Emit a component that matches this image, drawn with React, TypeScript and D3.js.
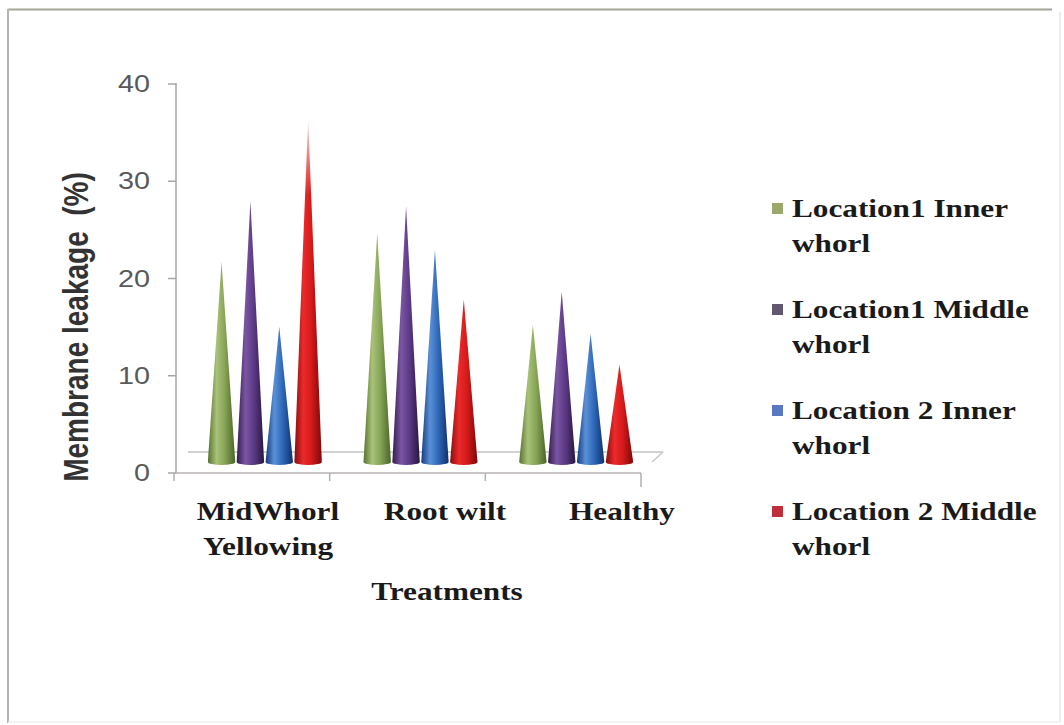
import React from "react";
import * as d3 from "d3";

// Treatments (x categories) and their two-line labels
const categories = ["MidWhorl Yellowing", "Root wilt", "Healthy"];
const categoryLines = [["MidWhorl", "Yellowing"], ["Root wilt"], ["Healthy"]];

// Series names and legend lines
const seriesNames = [
  "Location1 Inner whorl",
  "Location1 Middle whorl",
  "Location 2 Inner whorl",
  "Location 2 Middle whorl",
];
const legendLines = [
  ["Location1 Inner", "whorl"],
  ["Location1 Middle", "whorl"],
  ["Location 2 Inner", "whorl"],
  ["Location 2 Middle", "whorl"],
];

// Membrane leakage (%) per treatment
const loc1Inner = [20.6, 23.5, 14.1];
const loc1Middle = [26.8, 26.3, 17.5];
const loc2Inner = [13.9, 21.8, 13.2];
const loc2Middle = [35.3, 16.7, 10.0];
const seriesValues = [loc1Inner, loc1Middle, loc2Inner, loc2Middle];

const yTicks = [0, 10, 20, 30, 40];

// cone shading: [edge, highlight, mid, far edge]
const coneShades = [
  ["#56722f", "#a9c27a", "#86a456", "#4a6326"],
  ["#321d4b", "#7a55a3", "#5c3a86", "#28163f"],
  ["#143c7c", "#5a90d8", "#2f68b8", "#10306a"],
  ["#880d0d", "#ec2a2a", "#d41a1a", "#7a0909"],
];
const legendColors = ["#9aa86a", "#615770", "#5a78c0", "#c0303c"];

const W = 1064;
const H = 725;
const SX = 1.25; // horizontal text stretch

export default function App() {
  const y = d3.scaleLinear().domain([0, 40]).range([473, 84]);
  const x = d3.scaleBand<string>().domain(categories).range([174, 641]);
  const inner = d3
    .scaleBand<number>()
    .domain(seriesNames.map((_, i) => i))
    .range([-57, 57])
    .paddingInner(0.05);
  const labelX = d3.scaleBand<string>().domain(categories).range([179.5, 710.5]);

  // offset of the cone plane inside the 3-D floor
  const depthDx = 13;
  const depthDy = -11;
  const ry = 3;
  const w = inner.bandwidth();

  const conePath = (cx: number, v: number) => {
    const yb = y(0) + depthDy;
    const yt = y(v) + depthDy;
    return `M${cx - w / 2},${yb} L${cx},${yt} L${cx + w / 2},${yb} A${w / 2},${ry} 0 0 1 ${cx - w / 2},${yb} Z`;
  };

  const serif = "'Liberation Serif', 'Times New Roman', serif";
  const sans = "'Liberation Sans', Arial, sans-serif";

  const boundaries = [...categories.map((c) => x(c) as number), x.range()[1]];

  return (
    <svg
      width={W}
      height={H}
      style={{ position: "absolute", left: 0, top: 0, background: "#fff" }}
    >
      <defs>
        {coneShades.map((s, i) => (
          <linearGradient key={i} id={`cone-${i}`} x1="0" x2="1" y1="0" y2="0">
            <stop offset="0" stopColor={s[0]} />
            <stop offset="0.32" stopColor={s[1]} />
            <stop offset="0.62" stopColor={s[2]} />
            <stop offset="1" stopColor={s[3]} />
          </linearGradient>
        ))}
        <linearGradient id="tipFade" x1="0" x2="0" y1="0" y2="1">
          <stop offset="0" stopColor="#fff" stopOpacity="0.15" />
          <stop offset="0.22" stopColor="#fff" stopOpacity="1" />
          <stop offset="1" stopColor="#fff" stopOpacity="1" />
        </linearGradient>
        <mask id="coneMask" maskContentUnits="objectBoundingBox">
          <rect x="0" y="0" width="1" height="1" fill="url(#tipFade)" />
        </mask>
      </defs>

      {/* outer frame */}
      <line x1={8} y1={9.5} x2={1052} y2={9.5} stroke="#a3a797" strokeWidth={2} />
      <line x1={8} y1={9} x2={8} y2={723} stroke="#b4b4b4" strokeWidth={2} />
      <line x1={1060} y1={12} x2={1060} y2={722} stroke="#ececec" strokeWidth={2} />
      <line x1={8} y1={722} x2={1060} y2={722} stroke="#f0f0f0" strokeWidth={1.5} />

      {/* floor back edge */}
      <line x1={188} y1={452} x2={663} y2={452} stroke="#d2d2d2" strokeWidth={2} />
      <line x1={652} y1={462} x2={663} y2={452} stroke="#c8c8c8" strokeWidth={1.5} />

      {/* value axis */}
      <line x1={176} y1={y(40) - 1} x2={176} y2={y(0)} stroke="#a6a6a6" strokeWidth={1.5} />
      {yTicks.map((t) => (
        <g key={t}>
          <line x1={168} y1={y(t)} x2={176} y2={y(t)} stroke="#a6a6a6" strokeWidth={1.5} />
          <text
            transform={`translate(150,${y(t) + 8}) scale(${SX},1)`}
            textAnchor="end"
            fontFamily={sans}
            fontSize={23}
            fill="#595959"
          >
            {t}
          </text>
        </g>
      ))}

      {/* category axis */}
      <line x1={174} y1={y(0)} x2={641} y2={y(0)} stroke="#b8b2b2" strokeWidth={1.5} />
      {boundaries.map((bx, i) => (
        <line
          key={i}
          x1={bx}
          y1={y(0)}
          x2={bx}
          y2={y(0) + (i === boundaries.length - 1 ? 14 : 8)}
          stroke="#b0b0b0"
          strokeWidth={1.5}
        />
      ))}

      {/* cones */}
      <g mask="url(#coneMask)">
        {categories.map((c, ci) =>
          seriesValues.map((vals, si) => {
            const cx = (x(c) as number) + x.bandwidth() / 2 + depthDx + (inner(si) as number) + w / 2;
            return (
              <path key={`${ci}-${si}`} d={conePath(cx, vals[ci])} fill={`url(#cone-${si})`} />
            );
          })
        )}
      </g>

      {/* category labels */}
      {categories.map((c, ci) =>
        categoryLines[ci].map((line, li) => (
          <text
            key={`${c}-${li}`}
            transform={`translate(${(labelX(c) as number) + labelX.bandwidth() / 2},${520 + li * 35}) scale(${SX},1)`}
            textAnchor="middle"
            fontFamily={serif}
            fontWeight="bold"
            fontSize={25}
            fill="#1a1a1a"
          >
            {line}
          </text>
        ))
      )}

      {/* axis titles */}
      <text
        transform={`translate(447,600) scale(${SX},1)`}
        textAnchor="middle"
        fontFamily={serif}
        fontWeight="bold"
        fontSize={25}
        fill="#1a1a1a"
      >
        Treatments
      </text>
      <text
        transform={`translate(88,327) scale(${SX},1) rotate(-90)`}
        textAnchor="middle"
        fontFamily={sans}
        fontWeight="bold"
        fontSize={28}
        fill="#333"
        style={{ whiteSpace: "pre" }}
      >
        {"Membrane leakage  (%)"}
      </text>

      {/* legend */}
      {legendLines.map((lines, i) => {
        const base = 217 + i * 101;
        return (
          <g key={i}>
            <rect x={772} y={base - 14} width={11} height={11} fill={legendColors[i]} />
            {lines.map((line, li) => (
              <text
                key={li}
                transform={`translate(792,${base + li * 35}) scale(${SX},1)`}
                fontFamily={serif}
                fontWeight="bold"
                fontSize={25}
                fill="#1a1a1a"
              >
                {line}
              </text>
            ))}
          </g>
        );
      })}
    </svg>
  );
}
